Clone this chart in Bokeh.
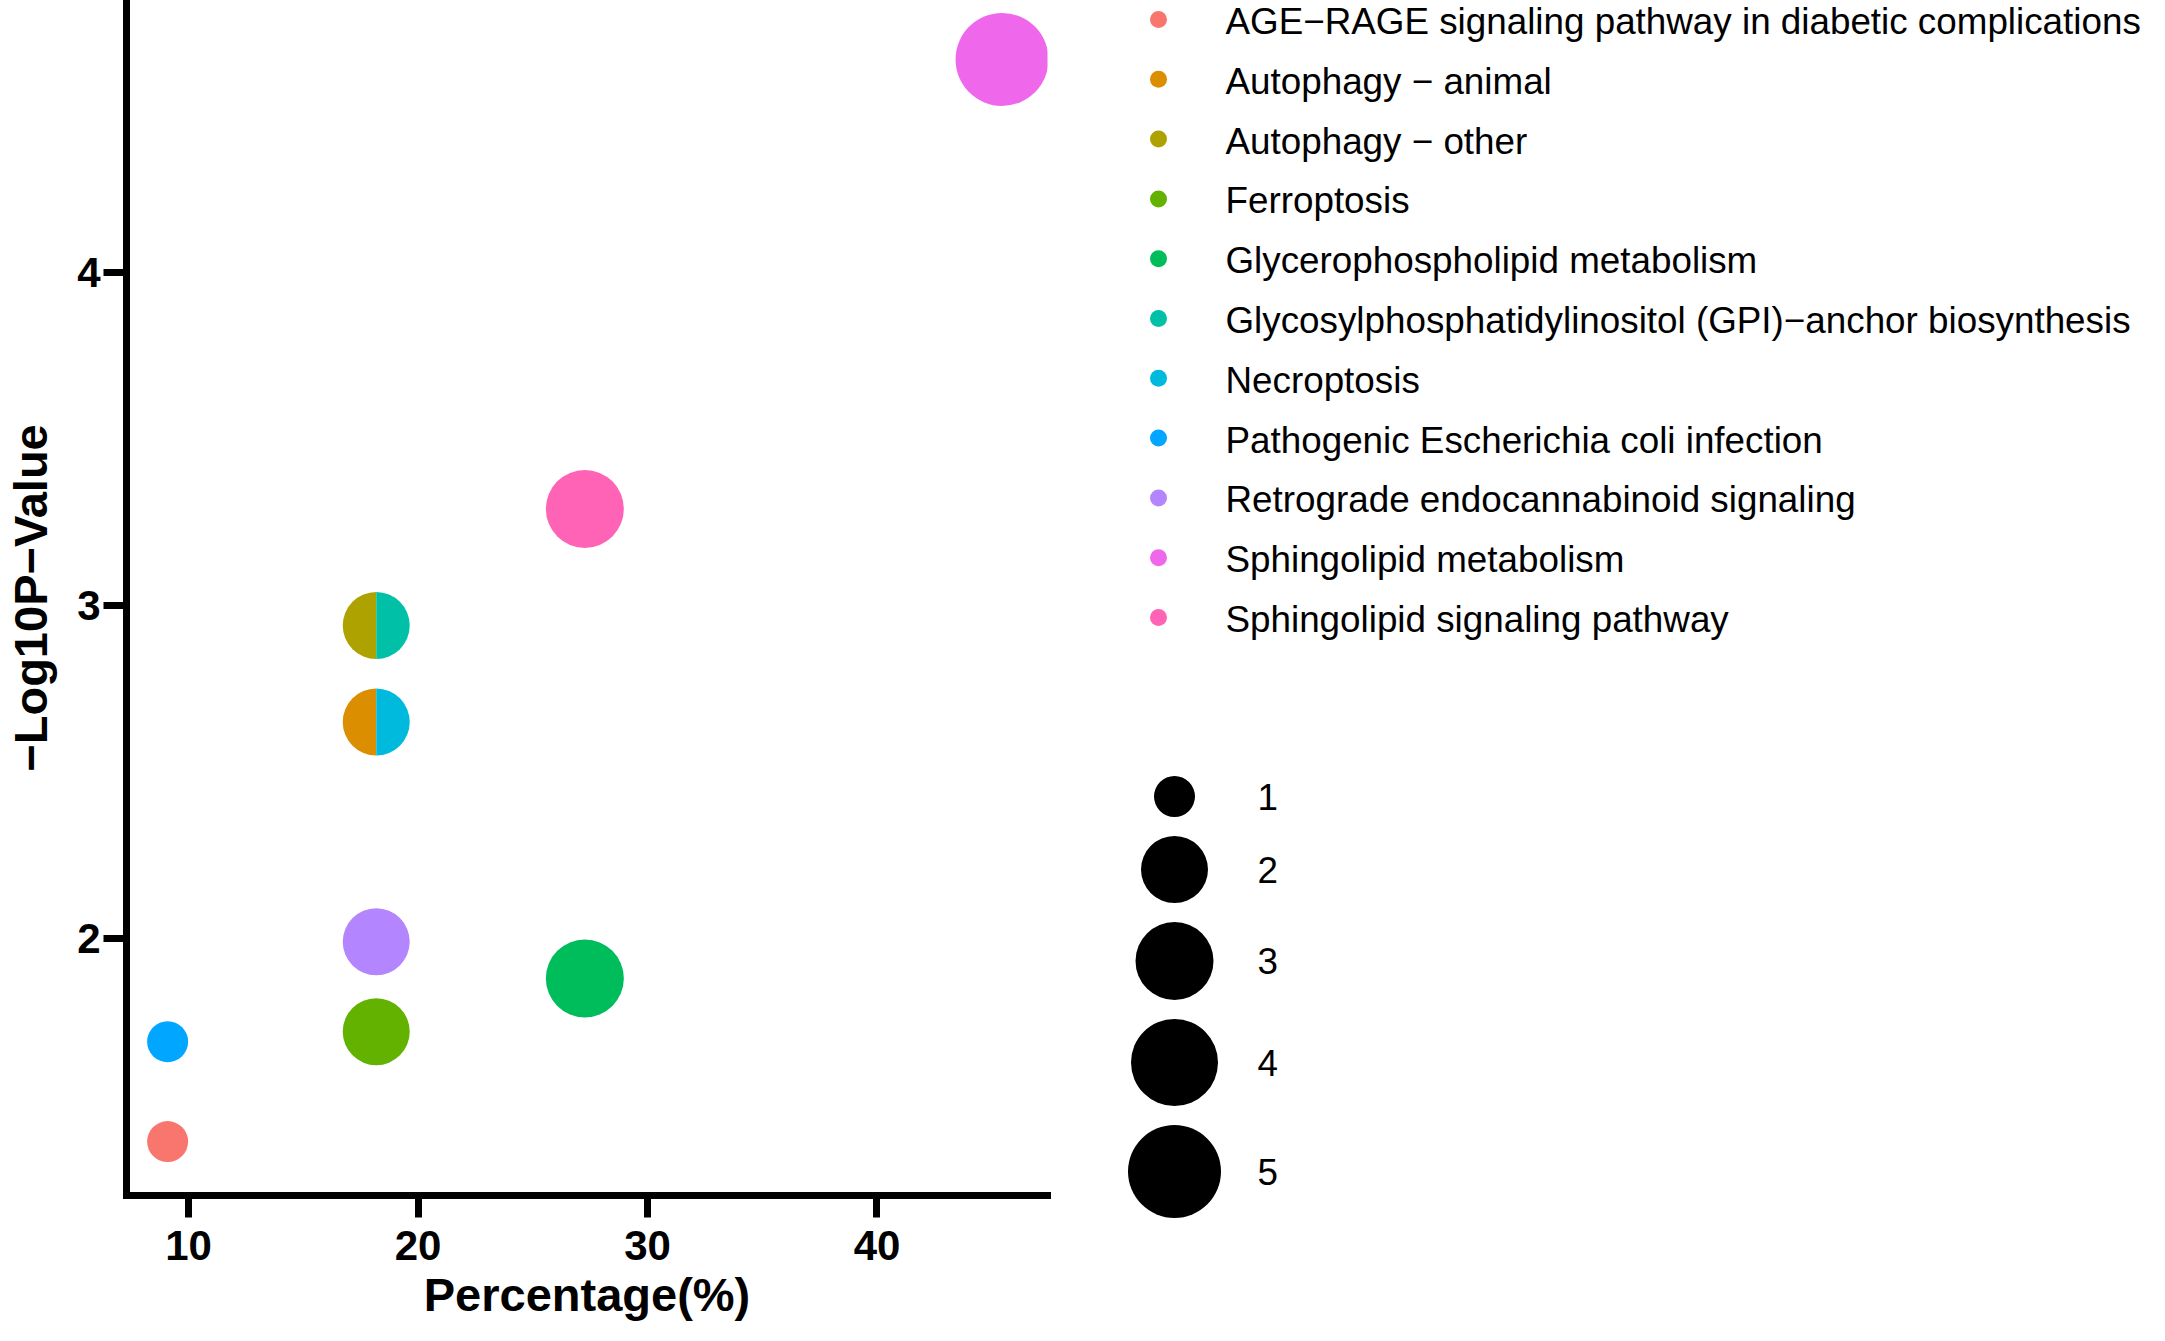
import math
from bokeh.plotting import figure
from bokeh.layouts import row, column
from bokeh.models import Range1d, FixedTicker, ColumnDataSource
from bokeh.core.properties import value
from bokeh.embed import file_html
from bokeh.resources import INLINE

# ---------------- data ----------------
pathways = [
    "AGE\u2212RAGE signaling pathway in diabetic complications",
    "Autophagy \u2212 animal",
    "Autophagy \u2212 other",
    "Ferroptosis",
    "Glycerophospholipid metabolism",
    "Glycosylphosphatidylinositol (GPI)\u2212anchor biosynthesis",
    "Necroptosis",
    "Pathogenic Escherichia coli infection",
    "Retrograde endocannabinoid signaling",
    "Sphingolipid metabolism",
    "Sphingolipid signaling pathway",
]
percentage = [9.09, 18.18, 18.18, 18.18, 27.27, 18.18, 18.18, 9.09, 18.18, 45.45, 27.27]
neg_log10_p = [1.39, 2.65, 2.94, 1.72, 1.88, 2.94, 2.65, 1.69, 1.99, 4.64, 3.29]
gene_count = [1, 2, 2, 2, 3, 2, 2, 1, 2, 5, 3]
colors = ["#F8766D", "#DB8E00", "#AEA200", "#64B200", "#00BD5C", "#00C1A7",
          "#00BADE", "#00A6FF", "#B385FF", "#EF67EB", "#FF63B6"]
size_breaks = [1, 2, 3, 4, 5]
x_ticks = [10, 20, 30, 40]
y_ticks = [2, 3, 4]
x_title = "Percentage(%)"
y_title = "\u2212Log10P\u2212Value"

# style: marker diameter (px) per gene count
key_diameter = {1: 41, 2: 67, 3: 78, 4: 87, 5: 93}

FONT = "Liberation Sans"
W, H = 2149, 1325

# ---------------- main plot ----------------
x0, x1 = 7.298, 47.43
y0, y1 = 1.228, 4.817
frame_left, frame_right, frame_top, frame_bottom = 126, 1047, 0, 1195
p_width = 1100
p = figure(width=p_width, height=H, output_backend="svg", toolbar_location=None,
           x_range=Range1d(x0, x1), y_range=Range1d(y0, y1),
           min_border_left=frame_left, min_border_right=p_width - frame_right,
           min_border_top=frame_top, min_border_bottom=H - frame_bottom)
p.outline_line_color = None
p.xgrid.visible = False
p.ygrid.visible = False
p.background_fill_color = "white"
p.border_fill_color = "white"

for ax, ticks in ((p.xaxis[0], x_ticks), (p.yaxis[0], y_ticks)):
    ax.ticker = FixedTicker(ticks=ticks, minor_ticks=[])
    ax.axis_line_width = 7
    ax.axis_line_color = "black"
    ax.axis_line_cap = "square"
    ax.major_tick_line_width = 7
    ax.major_tick_line_color = "black"
    ax.major_tick_in = 0
    ax.minor_tick_line_color = None
    ax.major_label_text_font = FONT
    ax.major_label_text_font_style = "bold"
    ax.major_label_text_font_size = "42px"
    ax.major_label_text_color = "black"
    ax.axis_label_text_font = FONT
    ax.axis_label_text_font_style = "bold"
    ax.axis_label_text_color = "black"

p.xaxis.major_tick_out = 22
p.xaxis.major_label_standoff = 13
p.xaxis.axis_label = x_title
p.xaxis.axis_label_text_font_size = "47px"
p.xaxis.axis_label_standoff = 5

p.yaxis.major_tick_out = 23
p.yaxis.major_label_standoff = 3
p.yaxis.axis_label = y_title
p.yaxis.axis_label_text_font_size = "47px"
p.yaxis.axis_label_standoff = 17

# group points sharing a position -> split circles
groups = {}
for i in range(len(pathways)):
    groups.setdefault((percentage[i], neg_log10_p[i]), []).append(i)

full = dict(x=[], y=[], size=[], color=[])
halves = dict(x=[], y=[], r=[], start=[], end=[], color=[])
for key, idx in groups.items():
    if len(idx) == 1:
        i = idx[0]
        full["x"].append(percentage[i]); full["y"].append(neg_log10_p[i])
        full["size"].append(key_diameter[gene_count[i]]); full["color"].append(colors[i])
    else:
        for k, i in enumerate(idx[:2]):
            halves["x"].append(percentage[i]); halves["y"].append(neg_log10_p[i])
            halves["r"].append(key_diameter[gene_count[i]] / 2)
            if k == 0:
                halves["start"].append(math.pi / 2); halves["end"].append(3 * math.pi / 2)
            else:
                halves["start"].append(-math.pi / 2); halves["end"].append(math.pi / 2)
            halves["color"].append(colors[i])

p.scatter("x", "y", size="size", fill_color="color", line_color=None,
          source=ColumnDataSource(full))
p.wedge("x", "y", radius="r", radius_units="screen", start_angle="start", end_angle="end",
        fill_color="color", line_color=None, source=ColumnDataSource(halves))

# ---------------- legend panel (pixel coordinates of the picture) ----------------
q_width = W - p_width
q = figure(width=q_width, height=H, output_backend="svg", toolbar_location=None,
           x_range=Range1d(p_width, W), y_range=Range1d(H, 0),
           x_axis_location=None, y_axis_location=None,
           min_border_left=0, min_border_right=0, min_border_top=0, min_border_bottom=0)
q.outline_line_color = None
q.xgrid.visible = False
q.ygrid.visible = False

row_y0, row_step = 19, 59.8
ly = [row_y0 + i * row_step for i in range(len(pathways))]
q.scatter([1158] * len(pathways), ly, size=17, fill_color=colors, line_color=None)
q.text([1225] * len(pathways), [v + 2 for v in ly], text=pathways, text_font=value(FONT),
       text_font_size="36.8px", text_baseline="middle", text_align="left", text_color="black")

# size legend
sy = []
yy = 796
for j, b in enumerate(size_breaks):
    if j > 0:
        yy += (key_diameter[size_breaks[j - 1]] + key_diameter[b]) / 2 + 19
    sy.append(yy)
q.scatter([1174] * len(size_breaks), sy, size=[key_diameter[b] for b in size_breaks],
          fill_color="black", line_color=None)
q.text([1257] * len(size_breaks), sy, text=[str(b) for b in size_breaks], text_font=value(FONT),
       text_font_size="36.8px", text_baseline="middle", text_align="left", text_color="black")

layout = row(p, column(q))
open("out.html", "w").write(file_html(layout, INLINE))
